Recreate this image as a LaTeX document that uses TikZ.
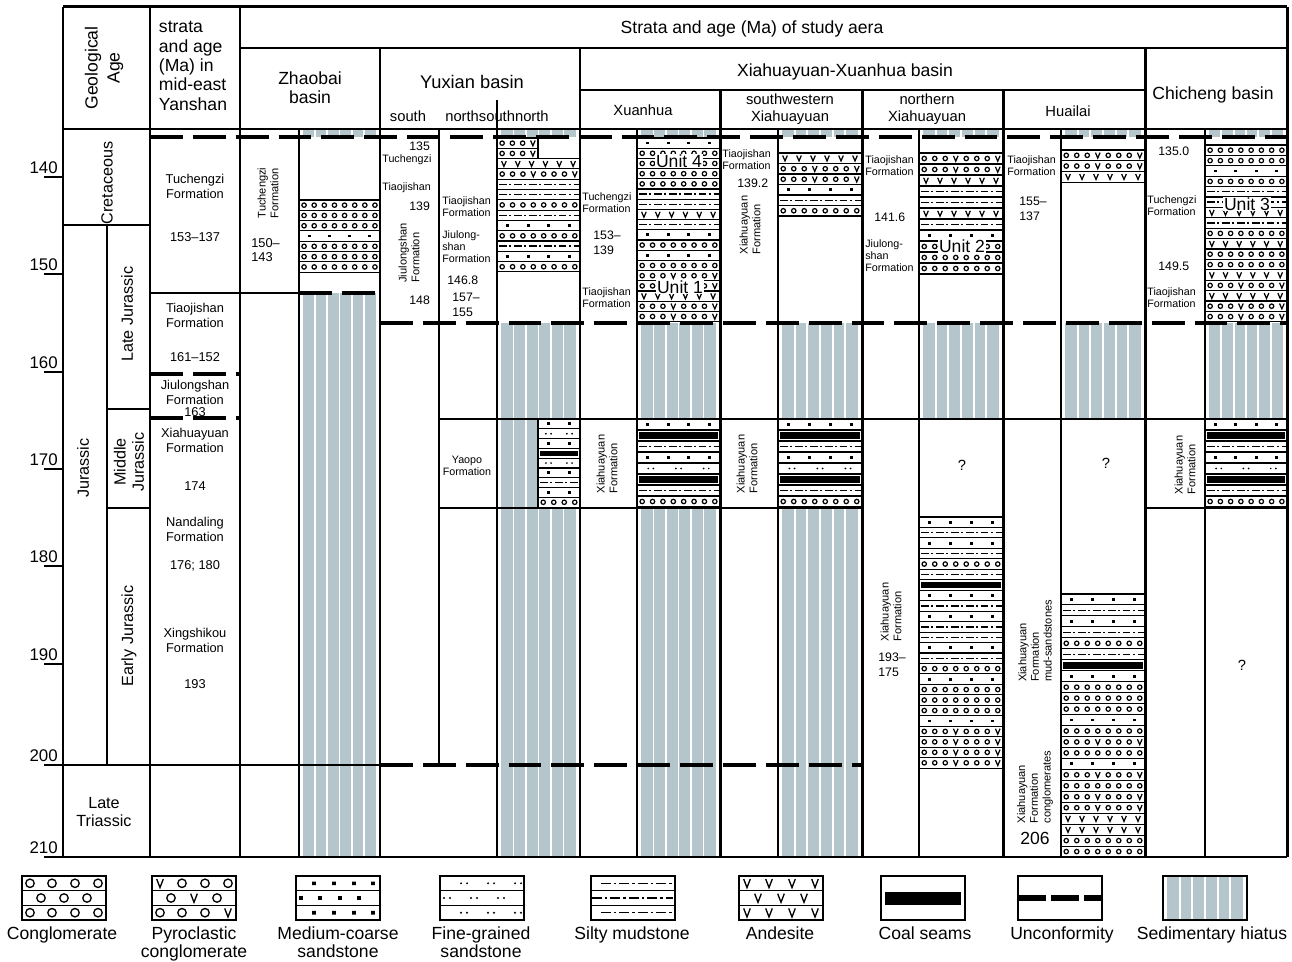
\documentclass[tikz,border=0pt]{standalone}
\usepackage{fontspec}
\setmainfont{Liberation Sans}
\usetikzlibrary{positioning}
\definecolor{hiatgrey}{RGB}{180,198,204}

% symbols (1 unit = 1 px of the chart)
\newcommand\pebble[2]{\draw[lsym] (#1,#2) circle[radius=1.25pt];}
\newcommand\andv[2]{\draw[lsym] ({#1-2.3},{#2-2.7}) -- (#1,{#2+2.7}) -- ({#1+2.3},{#2-2.7});}
\newcommand\legv[2]{\draw[legsym] ({#1-3.3},{#2-4.3}) -- (#1,{#2+4.3}) -- ({#1+3.3},{#2-4.3});}

% lithology fills: x1 x2 y1 y2
\newcommand\lithcong[4]{%
  \pgfmathsetmacro\lmid{(#3+#4)/2}%
  \pgfmathtruncatemacro\lnum{max(1,round((#2-#1)/10.4))}%
  \pgfmathsetmacro\lstep{(#2-#1)/\lnum}%
  \foreach \i in {1,...,\lnum}{\pgfmathsetmacro\lx{#1+\lstep*(\i-0.5)}\pebble{\lx}{\lmid}}}
\newcommand\lithpyro[4]{%
  \pgfmathsetmacro\lmid{(#3+#4)/2}%
  \pgfmathtruncatemacro\lnum{max(1,round((#2-#1)/10.4))}%
  \pgfmathsetmacro\lstep{(#2-#1)/\lnum}%
  \foreach \i in {1,...,\lnum}{\pgfmathsetmacro\lx{#1+\lstep*(\i-0.5)}%
    \pgfmathtruncatemacro\lmod{mod(\i,4)}%
    \ifnum\lmod=0 \andv{\lx}{\lmid}\else\pebble{\lx}{\lmid}\fi}}
\newcommand\lithandes[4]{%
  \pgfmathsetmacro\lmid{(#3+#4)/2}%
  \pgfmathtruncatemacro\lnum{max(1,round((#2-#1)/14.5))}%
  \pgfmathsetmacro\lstep{(#2-#1)/\lnum}%
  \foreach \i in {1,...,\lnum}{\pgfmathsetmacro\lx{#1+\lstep*(\i-0.5)}\andv{\lx}{\lmid}}}
\newcommand\lithmsand[4]{%
  \pgfmathsetmacro\lmid{(#3+#4)/2}%
  \pgfmathtruncatemacro\lnum{max(1,round((#2-#1)/20.5))}%
  \pgfmathsetmacro\lstep{(#2-#1)/\lnum}%
  \foreach \i in {1,...,\lnum}{\pgfmathsetmacro\lx{#1+\lstep*(\i-0.5)}%
    \fill ({\lx-1.4},{\lmid-1.4}) rectangle ({\lx+1.4},{\lmid+1.4});}}
\newcommand\lithfsand[4]{%
  \pgfmathsetmacro\lmid{(#3+#4)/2}%
  \pgfmathtruncatemacro\lnum{max(1,round((#2-#1)/26))}%
  \pgfmathsetmacro\lstep{(#2-#1)/\lnum}%
  \foreach \i in {1,...,\lnum}{\pgfmathsetmacro\lx{#1+\lstep*(\i-0.5)}%
    \fill ({\lx-2.6},\lmid) circle[radius=0.55pt] ({\lx+2.6},\lmid) circle[radius=0.55pt];}}
\newcommand\lithsilt[4]{%
  \pgfmathsetmacro\lmid{(#3+#4)/2}%
  \draw[siltline] ({#1+2},\lmid) -- ({#2-1},\lmid);}
\newcommand\lithcoal[4]{\fill ({#1+2},{#3+2.2}) rectangle ({#2-2},{#4-2.2});}

% x1 x2 ytop height {list of layers}
\newcommand\bandstack[5]{%
  \foreach \ty [count=\k] in {#5}{%
    \pgfmathsetmacro\bandtop{#3+(\k-1)*#4}%
    \pgfmathsetmacro\bandbot{#3+\k*#4}%
    \draw[bandbox] (#1,\bandtop) rectangle (#2,\bandbot);
    \csname lith\ty\endcsname{#1}{#2}{\bandtop}{\bandbot}}}

% x1 x2 y1 y2
\newcommand\hiatusfill[4]{%
  \fill[hiatgrey] ({#1+4},#3) rectangle ({#2-4},#4);
  \foreach \i in {1,...,5}{
    \draw[white,line width=1.1pt] ({#1+4+(#2-#1-8)*\i/6},#3) -- ({#1+4+(#2-#1-8)*\i/6},#4);}}

\begin{document}
\begin{tikzpicture}[x=0.02cm,y=-0.02cm,
  colline/.style={line width=1.7pt},
  midline/.style={line width=1.1pt},
  thinline/.style={line width=0.75pt},
  unconf/.style={line width=1.8pt,dash pattern=on 18.7pt off 5.7pt},
  bandbox/.style={line width=0.6pt,fill=white},
  lsym/.style={line width=0.7pt},
  siltline/.style={line width=0.8pt,dash pattern=on 4.4pt off 1.5pt on 1.1pt off 1.5pt},
  legline/.style={line width=1pt},
  legsym/.style={line width=0.75pt},
  legsilt/.style={line width=0.9pt,dash pattern=on 5.5pt off 1.8pt on 1.4pt off 1.8pt},
  hdrtext/.style={font=\fontsize{10}{11}\selectfont,align=center,inner sep=0pt},
  geotext/.style={font=\fontsize{9.2}{10.4}\selectfont,align=center,inner sep=0pt},
  subtext/.style={font=\fontsize{8.4}{9.6}\selectfont,align=center,inner sep=0pt},
  ticklabel/.style={font=\fontsize{9.6}{11}\selectfont,anchor=south east,inner sep=0pt},
  midtext/.style={font=\fontsize{7.3}{8.6}\selectfont,align=center,inner sep=0pt},
  smalltext/.style={font=\fontsize{6.1}{6.9}\selectfont,align=left,anchor=west,inner sep=0pt},
  numtext/.style={font=\fontsize{7}{8.4}\selectfont,align=left,anchor=west,inner sep=0pt},
  rottext/.style={font=\fontsize{6.3}{7.2}\selectfont,rotate=90,align=left,inner sep=0pt},
  unitlabel/.style={font=\fontsize{10}{11}\selectfont,fill=white,inner sep=0.5pt},
  legtext/.style={font=\fontsize{10}{10.5}\selectfont,align=center,anchor=north,inner sep=0pt}]

\path[fill=white] (0,0) rectangle (1292,962);
\useasboundingbox (0,0) rectangle (1292,962);

% sedimentary hiatus
\foreach \xa/\xb in {299/380,497/580,637/720,778/862,919/1003,1061/1145,1205/1287}{
  \hiatusfill{\xa}{\xb}{129}{137}}
\foreach \xa/\xb/\ya/\yb in {299/380/293/857,497/580/323/857,637/720/323/419,637/720/508/857,
    778/862/323/419,778/862/508/857,919/1003/323/419,1061/1145/323/419,1205/1287/323/419}{
  \hiatusfill{\xa}{\xb}{\ya}{\yb}}

% lithology columns
\bandstack{299}{380}{200}{10.3}{cong,cong,cong,msand,cong,cong,cong}
\bandstack{497}{538}{138}{10.3}{pyro,pyro}
\bandstack{497}{580}{158.6}{10.3}{andes,pyro,silt,silt,cong,silt,msand,cong,silt,msand,cong}
\bandstack{538}{580}{419}{9.8}{msand,fsand,msand,coal,fsand,msand,silt,msand,cong}
\bandstack{637}{720}{138}{10.2}{msand,cong,cong,cong,cong,silt,silt,andes,silt,msand,cong,msand,cong,pyro,pyro,andes,pyro,pyro}
\foreach \xa/\xb in {637/720,778/862,1205/1287}{
  \bandstack{\xa}{\xb}{419}{11}{msand,coal,silt,msand,fsand,coal,silt,cong}}
\bandstack{778}{862}{153}{10.5}{andes,pyro,pyro,msand,silt,cong}
\bandstack{919}{1003}{153}{11}{pyro,pyro,andes,silt,silt,andes,silt,msand,cong,cong,cong}
\bandstack{919}{1003}{517}{10.46}{msand,silt,msand,silt,cong,silt,coal,msand,silt,msand,silt,silt,msand,silt,cong,msand,cong,cong,cong,msand,pyro,pyro,pyro,pyro}
\bandstack{1061}{1145}{150}{10.7}{pyro,pyro,andes}
\bandstack{1061}{1145}{594}{10.96}{msand,silt,msand,silt,cong,silt,coal,msand,cong,cong,cong,msand,cong,pyro,cong,msand,pyro,cong,pyro,pyro,andes,andes,cong,cong}
\bandstack{1205}{1287}{145}{10.4}{cong,cong,msand,cong,silt,silt,andes,silt,cong,andes,cong,cong,andes,pyro,andes,pyro,pyro}

% table frame
\draw[colline] (63,7) -- (1287,7);
\draw[colline] (63,129) -- (1287,129);
\draw[colline] (44,857) -- (1287,857);
\draw[midline] (240,48) -- (1287,48);
\draw[colline] (580,90) -- (1145,90);
\foreach \xx/\ya in {63/7,150/7,240/7,380/48,580/48,720/90,862/90,1003/90,1145/48,1287/7}
  \draw[colline] (\xx,\ya) -- (\xx,857);
\foreach \xx/\ya/\yb in {299/129/857,439/129/765,497/100/857,637/129/857,778/129/857,
    919/129/857,1061/129/857,1205/129/857}
  \draw[thinline] (\xx,\ya) -- (\xx,\yb);
\draw[colline] (107,225) -- (107,765);
\draw[colline] (63,225) -- (150,225);
\draw[colline] (107,409) -- (150,409);
\draw[colline] (107,508) -- (150,508);
\draw[colline] (63,765) -- (380,765);
\draw[thinline] (150,293) -- (299,293);
\draw[thinline] (439,419) -- (1287,419);
\draw[thinline] (439,508) -- (862,508);
\draw[thinline] (1145,508) -- (1287,508);

% unconformities
\draw[unconf] (150,137) -- (1287,137);
\draw[unconf] (299,293) -- (380,293);
\draw[unconf] (150,374) -- (240,374);
\draw[unconf] (150,418) -- (240,418);
\draw[unconf] (380,323) -- (1287,323);
\draw[unconf] (380,765) -- (862,765);

% age axis
\foreach \age/\yy in {140/177,150/274,160/372,170/469,180/566,190/664,200/765,210/857}{
  \draw[colline] (44,\yy) -- (63,\yy);
  \node[ticklabel] (tick\age) at (58,{\yy-3}) {\age};
}

% headings
\node[hdrtext] (hstudy) at (752,29) {Strata and age (Ma) of study aera};
\node[hdrtext,rotate=90,font=\fontsize{10}{12.5}\selectfont] (hgeo) at (104,68) {Geological\\Age};
\node[hdrtext,align=left] (hmid) at (193,66) {strata\\and age\\(Ma) in\\mid-east\\Yanshan};
\node[hdrtext] (hzhao) at (310,88) {Zhaobai\\basin};
\node[hdrtext,font=\fontsize{10.4}{11}\selectfont] (hyux) at (472,82) {Yuxian basin};
\node[subtext] (hysouth) at (408,116) {south};
\node[subtext] (hynorth) at (497,116) {northsouthnorth};
\node[hdrtext] (hxx) at (845,72) {Xiahuayuan-Xuanhua basin};
\node[subtext] (hxh) at (643,110) {Xuanhua};
\node[subtext] (hsw) at (790,109) {southwestern\\Xiahuayuan};
\node[subtext] (hnx) at (927,109) {northern\\Xiahuayuan};
\node[subtext] (hhl) at (1068,111) {Huailai};
\node[hdrtext] (hcc) at (1213,95) {Chicheng basin};

% geological age
\node[geotext,rotate=90] (gcret) at (107,183) {Cretaceous};
\node[geotext,rotate=90] (gjur) at (83,468) {Jurassic};
\node[geotext,rotate=90] (glate) at (127,314) {Late Jurassic};
\node[geotext,rotate=90] (gmid) at (129,462) {Middle\\Jurassic};
\node[geotext,rotate=90] (gearly) at (129,636) {Early Jurassic};
\node[geotext] (gtri) at (104,812) {Late\\Triassic};

% mid-east Yanshan
\node[midtext] (yTu) at (195,186) {Tuchengzi\\Formation};
\node[midtext] (yTuA) at (195,237) {153--137};
\node[midtext] (yTi) at (195,315) {Tiaojishan\\Formation};
\node[midtext] (yTiA) at (195,357) {161--152};
\node[midtext] (yJi) at (195,392) {Jiulongshan\\Formation};
\node[midtext] (yJiA) at (195,412) {163};
\node[midtext] (yXi) at (195,440) {Xiahuayuan\\Formation};
\node[midtext] (yXiA) at (195,486) {174};
\node[midtext] (yNa) at (195,529) {Nandaling\\Formation};
\node[midtext] (yNaA) at (195,566) {176; 180};
\node[midtext] (yXs) at (195,640) {Xingshikou\\Formation};
\node[midtext] (yXsA) at (195,684) {193};

% Zhaobai basin
\node[rottext] (zTu) at (268,193) {Tuchengzi\\Formation};
\node[numtext,font=\fontsize{7.3}{8.4}\selectfont] (zA) at (251,250) {150--\\143};

% Yuxian basin
\node[numtext] (ys135) at (409,146) {135};
\node[smalltext] (ysTu) at (382,160) {Tuchengzi};
\node[smalltext] (ysTi) at (382,188) {Tiaojishan};
\node[numtext] (ys139) at (409,206) {139};
\node[rottext] (ysJi) at (409,253) {Jiulongshan\\Formation};
\node[numtext] (ys148) at (409,300) {148};
\node[smalltext] (ynTi) at (442,207) {Tiaojishan\\Formation};
\node[smalltext] (ynJi) at (442,247) {Jiulong-\\shan\\Formation};
\node[numtext] (ynA) at (447,280) {146.8};
\node[numtext] (ynB) at (452,305) {157--\\155};
\node[smalltext,align=center,anchor=center] (ynYa) at (467,466) {Yaopo\\Formation};

% Xuanhua
\node[smalltext] (xhTu) at (582,203) {Tuchengzi\\Formation};
\node[numtext] (xhA) at (593,243) {153--\\139};
\node[smalltext] (xhTi) at (582,298) {Tiaojishan\\Formation};
\node[rottext] (xhXi) at (607,464) {Xiahuayuan\\Formation};
\node[unitlabel] (unit4) at (679,161) {Unit 4};
\node[unitlabel] (unit1) at (680,287) {Unit 1};

% southwestern Xiahuayuan
\node[smalltext] (swTi) at (722,160) {Tiaojishan\\Formation};
\node[numtext] (swA) at (737,183) {139.2};
\node[rottext] (swXi) at (750,225) {Xiahuayuan\\Formation};
\node[rottext] (swXiB) at (747,464) {Xiahuayuan\\Formation};

% northern Xiahuayuan
\node[smalltext] (nxTi) at (865,166) {Tiaojishan\\Formation};
\node[numtext] (nxA) at (874,217) {141.6};
\node[smalltext] (nxJi) at (865,256) {Jiulong-\\shan\\Formation};
\node[unitlabel] (unit2) at (962,246) {Unit 2};
\node[subtext] (nxQ) at (962,465) {?};
\node[rottext] (nxXi) at (891,612) {Xiahuayuan\\Formation};
\node[numtext] (nxB) at (878,665) {193--\\175};

% Huailai
\node[smalltext] (hlTi) at (1007,166) {Tiaojishan\\Formation};
\node[numtext] (hlA) at (1019,209) {155--\\137};
\node[subtext] (hlQ) at (1106,463) {?};
\node[rottext] (hlMud) at (1035,641) {Xiahuayuan\\Formation\\mud-sandstones};
\node[rottext] (hlCon) at (1035,787) {Xiahuayuan\\Formation\\conglomerates};
\node[hdrtext] (hlAge) at (1035,838) {206};

% Chicheng basin
\node[numtext] (ccA) at (1158,151) {135.0};
\node[smalltext] (ccTu) at (1147,206) {Tuchengzi\\Formation};
\node[unitlabel] (unit3) at (1247,204) {Unit 3};
\node[numtext] (ccB) at (1158,266) {149.5};
\node[smalltext] (ccTi) at (1147,298) {Tiaojishan\\Formation};
\node[rottext] (ccXi) at (1185,465) {Xiahuayuan\\Formation};
\node[subtext] (ccQ) at (1242,665) {?};

% legend
\hiatusfill{1163}{1247}{876}{920}
\fill (885,891.5) rectangle (961,904.5);
\draw[line width=3pt,dash pattern=on 15.8pt off 3pt] (1018,898) -- (1102,898);
\foreach \lx in {22,152,296,440,591,739}{
  \draw[legline] (\lx,876) rectangle ({\lx+84},920);
  \draw[thinline] (\lx,890.7) -- ({\lx+84},890.7) (\lx,905.3) -- ({\lx+84},905.3);
}
\foreach \lx in {881,1018,1163}
  \draw[legline] (\lx,876) rectangle ({\lx+84},920);
% conglomerate
\foreach \dx in {8,30,53,76}
  \draw[legsym] ({22+\dx},883.3) circle[radius=2.4pt] ({22+\dx},912.7) circle[radius=2.4pt];
\foreach \dx in {19,42,65}
  \draw[legsym] ({22+\dx},898) circle[radius=2.4pt];
% pyroclastic conglomerate
\legv{160}{883.3}
\foreach \dx in {30,53,76} \draw[legsym] ({152+\dx},883.3) circle[radius=2.4pt];
\draw[legsym] (171,898) circle[radius=2.4pt] (217,898) circle[radius=2.4pt];
\legv{194}{898}
\foreach \dx in {8,30,53} \draw[legsym] ({152+\dx},912.7) circle[radius=2.4pt];
\legv{228}{912.7}
% medium-coarse sandstone
\foreach \dx in {18,38,58,77}
  \fill ({296+\dx-1.8},881.5) rectangle ({296+\dx+1.8},885.1) ({296+\dx-1.8},910.9) rectangle ({296+\dx+1.8},914.5);
\foreach \dx in {5,24,44,63}
  \fill ({296+\dx-1.8},896.2) rectangle ({296+\dx+1.8},899.8);
% fine-grained sandstone
\foreach \dx in {24,51,78}
  \fill ({440+\dx-3},883.3) circle[radius=0.6pt] ({440+\dx+3},883.3) circle[radius=0.6pt]
        ({440+\dx-3},912.7) circle[radius=0.6pt] ({440+\dx+3},912.7) circle[radius=0.6pt];
\foreach \dx in {7,34,61}
  \fill ({440+\dx-3},898) circle[radius=0.6pt] ({440+\dx+3},898) circle[radius=0.6pt];
% silty mudstone
\draw[legsilt] (601,883.3) -- (673,883.3);
\draw[legsilt] (592,898) -- (673,898);
\draw[legsilt] (601,912.7) -- (673,912.7);
% andesite
\foreach \dx in {8,30,53,76} {\legv{739+\dx}{883.3}\legv{739+\dx}{912.7}}
\foreach \dx in {19,42,65} {\legv{739+\dx}{898}}

\node[legtext] (lcong) at (62,926) {Conglomerate};
\node[legtext] (lpyro) at (194,926) {Pyroclastic\\conglomerate};
\node[legtext] (lmsand) at (338,926) {Medium-coarse\\sandstone};
\node[legtext] (lfsand) at (481,926) {Fine-grained\\sandstone};
\node[legtext] (lsilt) at (632,926) {Silty mudstone};
\node[legtext] (landes) at (780,926) {Andesite};
\node[legtext] (lcoal) at (925,926) {Coal seams};
\node[legtext] (lunc) at (1062,926) {Unconformity};
\node[legtext] (lhiat) at (1212,926) {Sedimentary hiatus};
\end{tikzpicture}
\end{document}
